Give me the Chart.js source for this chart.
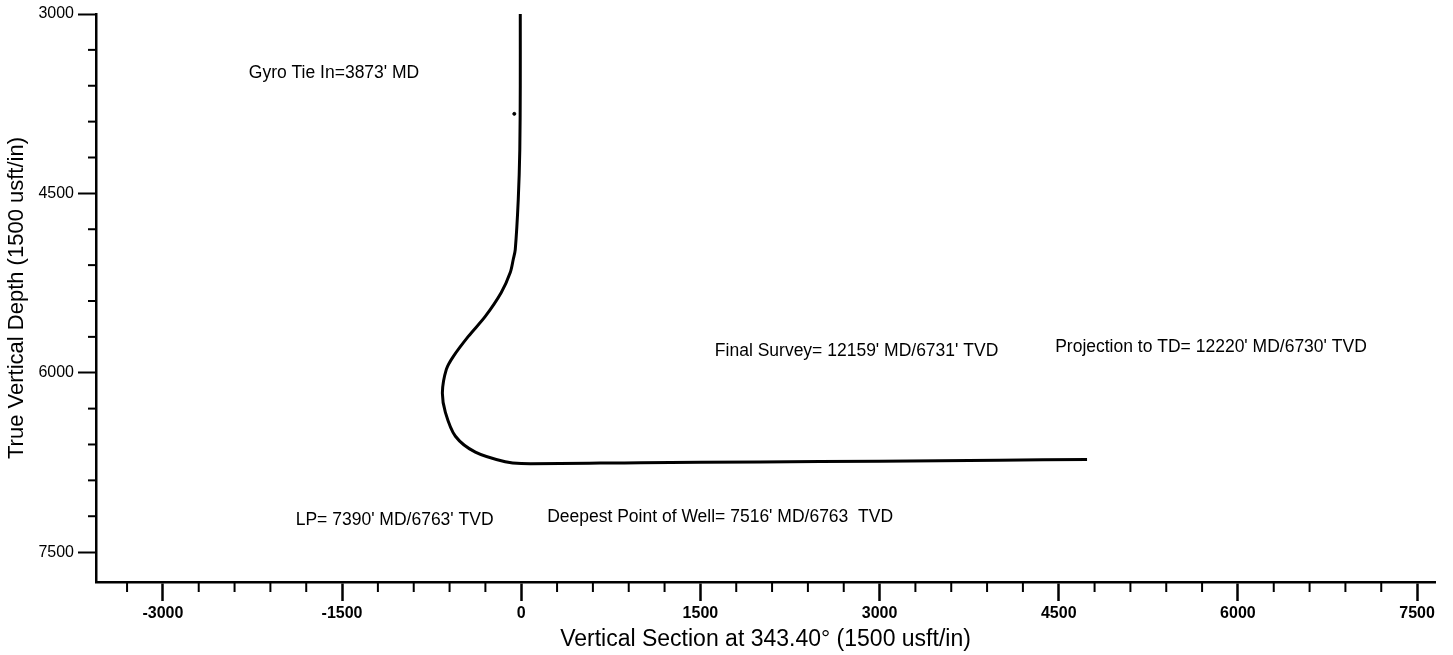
<!DOCTYPE html>
<html>
<head>
<meta charset="utf-8">
<title>Vertical Section</title>
<script src="https://cdn.jsdelivr.net/npm/chart.js@4.4.1/dist/chart.umd.min.js"></script>
<style>
  html, body { margin: 0; padding: 0; background: #fff; }
  #wrap { position: relative; width: 1453px; height: 655px; }
</style>
</head>
<body>
<div id="wrap"><canvas id="section-chart"></canvas></div>
<script>
// well path: vertical section (usft) vs true vertical depth (usft)
const sectionVS = [-8, -8, -12, -25, -50, -67, -92, -167, -301, -443, -568, -627, -660, -635, -551, -384, -134, 0, 1000, 2000, 3000, 4000, 4737];
const sectionTVD = [3000, 3600, 4135, 4553, 4970, 5053, 5162, 5329, 5529, 5696, 5863, 5972, 6164, 6331, 6531, 6664, 6745, 6760, 6752, 6746, 6740, 6731, 6725];

// gyro tie-in marker
const tieInVS = [-58];
const tieInTVD = [3835];

// axis settings
const xTicks = [-3000, -1500, 0, 1500, 3000, 4500, 6000, 7500];
const yTicks = [3000, 4500, 6000, 7500];
const xRange = [-3560, 7650];
const yRange = [3000, 7750];
const minorStep = 300;

// annotations
const noteText = [
  "Gyro Tie In=3873' MD",
  "LP= 7390' MD/6763' TVD",
  "Deepest Point of Well= 7516' MD/6763  TVD",
  "Final Survey= 12159' MD/6731' TVD",
  "Projection to TD= 12220' MD/6730' TVD"
];
const noteVS = [-2281, -1888, 217, 1621, 4470];
const noteTVD = [3492, 7232, 7207, 5821, 5788];

const FONT = '"Liberation Sans", Arial, sans-serif';

function toPoints(xs, ys) {
  return xs.map((x, i) => ({ x: x, y: ys[i] }));
}

// minor ticks and text notes
const extrasPlugin = {
  id: 'extras',
  afterDraw(chart) {
    const ctx = chart.ctx;
    const xs = chart.scales.x;
    const ys = chart.scales.y;
    ctx.save();
    ctx.strokeStyle = '#000';
    ctx.lineWidth = 2;

    // minor ticks on x
    for (let v = -3300; v <= xRange[1]; v += minorStep) {
      if (v % 1500 === 0) continue;
      const px = xs.getPixelForValue(v);
      ctx.beginPath();
      ctx.moveTo(px, xs.top);
      ctx.lineTo(px, xs.top + 10);
      ctx.stroke();
    }
    // minor ticks on y
    for (let v = yRange[0]; v <= yRange[1]; v += minorStep) {
      if (v % 1500 === 0) continue;
      const py = ys.getPixelForValue(v);
      ctx.beginPath();
      ctx.moveTo(ys.right, py);
      ctx.lineTo(ys.right - 8, py);
      ctx.stroke();
    }

    // notes
    ctx.fillStyle = '#000';
    ctx.font = '17.5px ' + FONT;
    ctx.textAlign = 'left';
    ctx.textBaseline = 'middle';
    noteText.forEach((t, i) => {
      ctx.fillText(t, xs.getPixelForValue(noteVS[i]), ys.getPixelForValue(noteTVD[i]));
    });
    ctx.restore();
  }
};

const ctx = document.getElementById('section-chart').getContext('2d');
new Chart(ctx, {
  type: 'scatter',
  data: {
    datasets: [
      {
        label: 'Well path',
        data: toPoints(sectionVS, sectionTVD),
        showLine: true,
        borderColor: '#000',
        borderWidth: 3,
        pointRadius: 0,
        tension: 0.3,
        fill: false
      },
      {
        label: 'Tie in',
        data: toPoints(tieInVS, tieInTVD),
        pointRadius: 1.5,
        pointBackgroundColor: '#000',
        pointBorderColor: '#000'
      }
    ]
  },
  options: {
    responsive: true,
    maintainAspectRatio: false,
    animation: false,
    layout: { padding: { top: 14, right: 18, left: 0, bottom: 0 } },
    plugins: {
      legend: { display: false },
      tooltip: { enabled: false }
    },
    scales: {
      x: {
        type: 'linear',
        min: xRange[0],
        max: xRange[1],
        afterBuildTicks: (scale) => { scale.ticks = xTicks.map(v => ({ value: v })); },
        afterFit: (scale) => { scale.height = 73; },
        border: { display: true, color: '#000', width: 2.5 },
        grid: { display: true, drawOnChartArea: false, tickLength: 19, tickColor: '#000', tickWidth: 2.5 },
        ticks: {
          color: '#000',
          padding: 3,
          font: { family: FONT, size: 16, weight: 'bold' },
          callback: (value) => String(value)
        },
        title: {
          display: true,
          text: 'Vertical Section at 343.40\u00b0 (1500 usft/in)',
          color: '#000',
          font: { family: FONT, size: 23 },
          padding: { top: 0, bottom: 2 }
        }
      },
      y: {
        type: 'linear',
        reverse: true,
        min: yRange[0],
        max: yRange[1],
        afterBuildTicks: (scale) => { scale.ticks = yTicks.map(v => ({ value: v })); },
        afterFit: (scale) => { scale.width = 96; },
        border: { display: true, color: '#000', width: 2.5 },
        grid: { display: true, drawOnChartArea: false, tickLength: 18, tickColor: '#000', tickWidth: 2 },
        ticks: {
          color: '#000',
          padding: 4,
          font: { family: FONT, size: 16 },
          callback: (value) => String(value)
        },
        title: {
          display: true,
          text: 'True Vertical Depth (1500 usft/in)',
          color: '#000',
          font: { family: FONT, size: 22 },
          padding: { top: 4, bottom: 0 }
        }
      }
    }
  },
  plugins: [extrasPlugin]
});
</script>
</body>
</html>
